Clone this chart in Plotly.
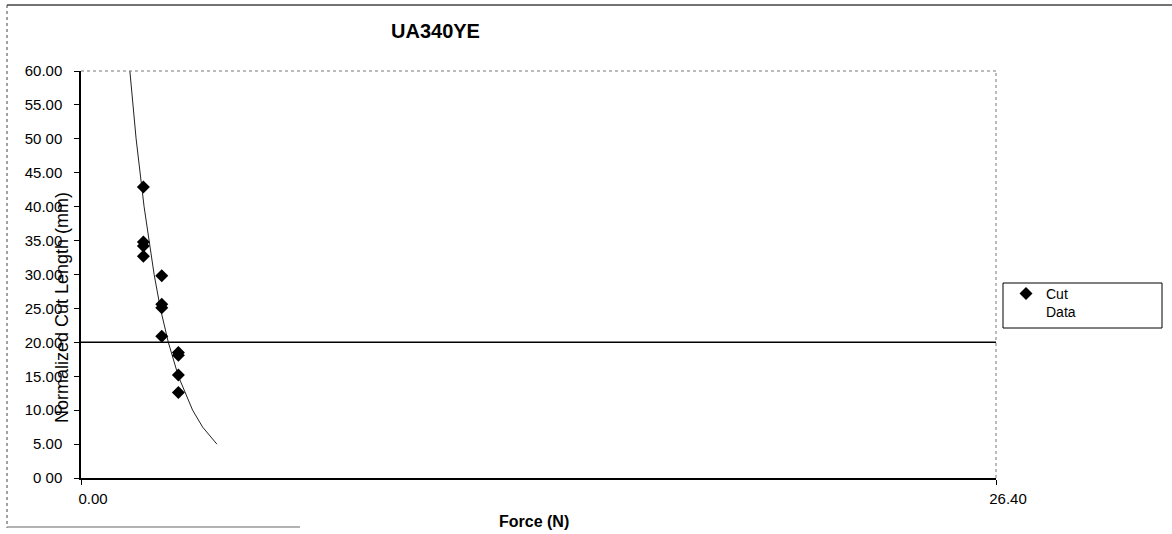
import plotly.graph_objects as go

# Data
force = [1.80, 1.80, 1.80, 1.80, 2.33, 2.33, 2.33, 2.33, 2.81, 2.81, 2.81, 2.81]
cut_length = [42.9, 34.8, 34.2, 32.7, 29.8, 25.6, 25.1, 20.9, 18.5, 18.1, 15.2, 12.6]

fit_force = [1.41, 1.59, 1.82, 2.11, 2.29, 2.52, 2.81, 3.22, 3.51, 3.92]
fit_length = [60, 50, 40, 30, 25, 20, 15, 10, 7.5, 5]

threshold_x = [0, 26.4]
threshold_y = [20, 20]

y_ticks = [0, 5, 10, 15, 20, 25, 30, 35, 40, 45, 50, 55, 60]
y_tick_text = ["0 00", "5.00", "10.00", "15.00", "20.00", "25.00", "30.00",
               "35.00", "40.00", "45.00", "50 00", "55.00", "60.00"]
x_ticks = [0, 26.4]
x_tick_text = ["0.00", "26.40"]

W, H = 1172, 534
L, R, T, B = 81, 996, 71, 478
FONT = "Liberation Sans, Arial, sans-serif"


def px(x):
    return (x - L) / (R - L)


def py(y):
    return (B - y) / (B - T)


fig = go.Figure()
fig.add_trace(go.Scatter(x=fit_force, y=fit_length, mode="lines",
                         line=dict(color="#222", width=1), showlegend=False,
                         hoverinfo="skip"))
fig.add_trace(go.Scatter(x=threshold_x, y=threshold_y, mode="lines",
                         line=dict(color="black", width=1.5), showlegend=False,
                         hoverinfo="skip"))
fig.add_trace(go.Scatter(x=force, y=cut_length, mode="markers", name="Cut<br>Data",
                         marker=dict(symbol="diamond", size=10, color="black")))

shapes = [
    # plot area top & right dotted borders
    dict(type="line", xref="paper", yref="paper", x0=0, x1=1, y0=1, y1=1,
         line=dict(color="#777", width=1, dash="dot")),
    dict(type="line", xref="paper", yref="paper", x0=1, x1=1, y0=0, y1=1,
         line=dict(color="#777", width=1, dash="dot")),
    # outer chart border (partial, as scanned)
    dict(type="line", xref="paper", yref="paper", x0=px(7), x1=px(1172), y0=py(5), y1=py(5),
         line=dict(color="#444", width=1.5)),
    dict(type="line", xref="paper", yref="paper", x0=px(7), x1=px(7), y0=py(5), y1=py(528),
         line=dict(color="#444", width=1, dash="dot")),
    dict(type="line", xref="paper", yref="paper", x0=px(7), x1=px(300), y0=py(527), y1=py(527),
         line=dict(color="#999", width=1.5)),
    # legend box
    dict(type="rect", xref="paper", yref="paper", x0=px(1003), x1=px(1162),
         y0=py(283), y1=py(328), line=dict(color="black", width=1)),
]

annotations = [
    dict(text="<b>UA340YE</b>", x=px(435), y=py(31), xref="paper", yref="paper",
         showarrow=False, font=dict(family=FONT, size=20, color="black"),
         xanchor="center", yanchor="middle"),
    dict(text="Normalized Cut Length (mm)", x=px(62), y=py(308), xref="paper", yref="paper",
         showarrow=False, textangle=-90, font=dict(family=FONT, size=18, color="black"),
         xanchor="center", yanchor="middle"),
    dict(text="<b>Force (N)</b>", x=px(534), y=py(521), xref="paper", yref="paper",
         showarrow=False, font=dict(family=FONT, size=16, color="black"),
         xanchor="center", yanchor="middle"),
]

fig.update_layout(
    width=W, height=H,
    margin=dict(l=L, r=W - R, t=T, b=H - B, pad=0),
    paper_bgcolor="white", plot_bgcolor="white",
    font=dict(family=FONT, size=15, color="black"),
    shapes=shapes, annotations=annotations,
    legend=dict(x=px(1006), y=py(278), xanchor="left", yanchor="top",
                borderwidth=0, bgcolor="rgba(0,0,0,0)", valign="top",
                font=dict(family=FONT, size=14, color="black"),
                itemwidth=30),
    xaxis=dict(range=[0, 26.4], tickvals=x_ticks, ticktext=x_tick_text,
               showgrid=False, zeroline=False, showline=True, linecolor="black",
               linewidth=1.5, ticks="outside", ticklen=5, tickcolor="black",
               ticklabelstandoff=1, ticklabelshift=12, fixedrange=True),
    yaxis=dict(range=[0, 60], tickvals=y_ticks, ticktext=y_tick_text,
               showgrid=False, zeroline=False, showline=True, linecolor="black",
               linewidth=1.5, ticks="outside", ticklen=5, tickcolor="black",
               ticklabelstandoff=9, fixedrange=True),
)

fig.write_html("out.html", config={"displayModeBar": False},
               post_script="document.body.style.margin='0';")
